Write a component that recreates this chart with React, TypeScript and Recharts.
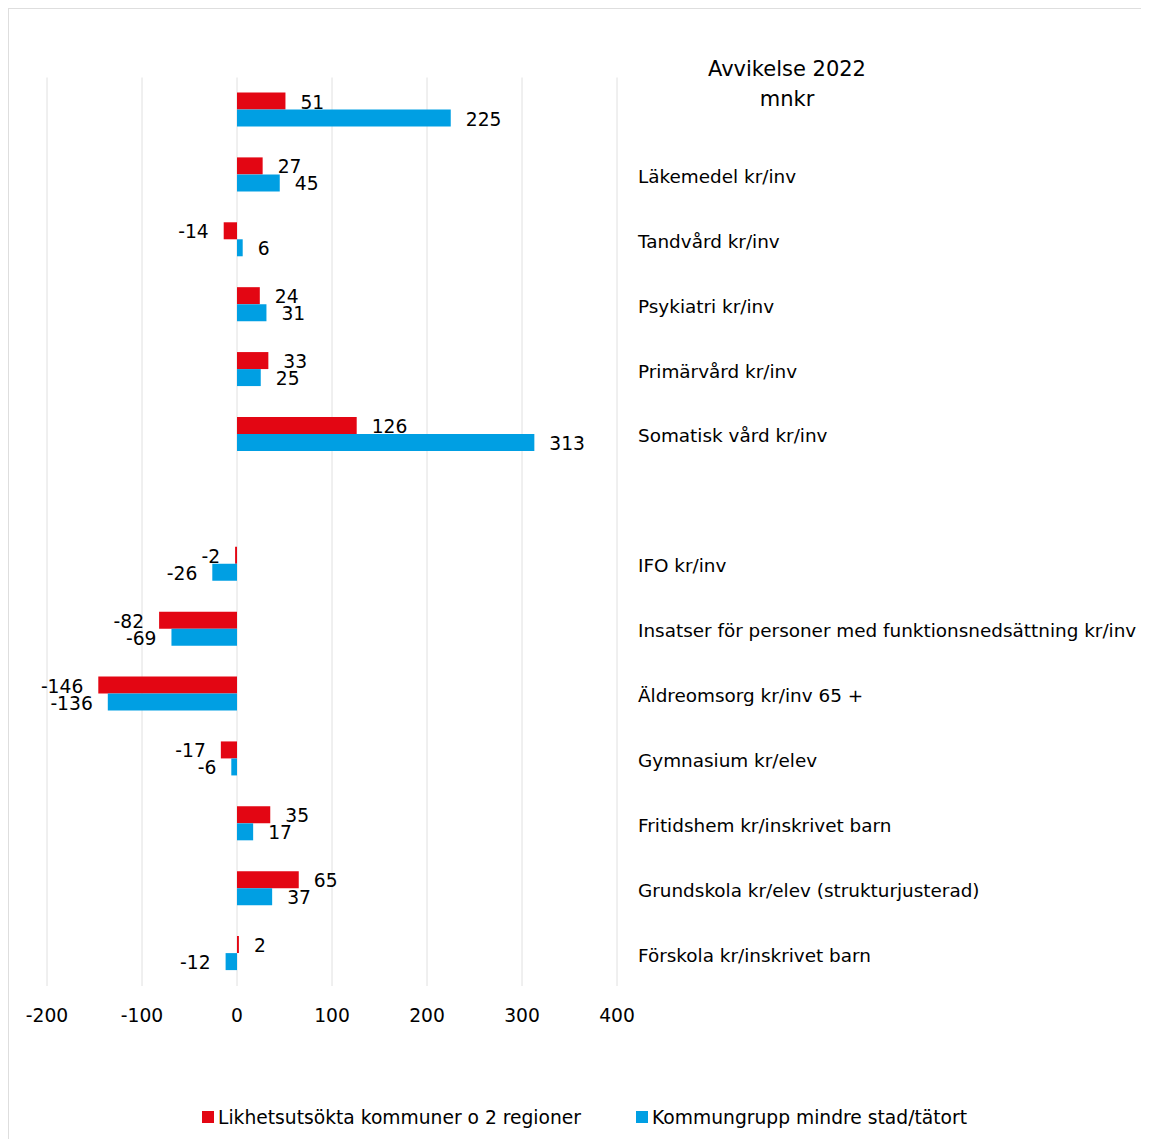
import React from "react";
import { Bar, BarChart, CartesianGrid, LabelList, Legend, XAxis, YAxis } from "recharts";

const categories = [
  "",
  "Läkemedel kr/inv",
  "Tandvård kr/inv",
  "Psykiatri kr/inv",
  "Primärvård kr/inv",
  "Somatisk vård kr/inv",
  " ",
  "IFO kr/inv",
  "Insatser för personer med funktionsnedsättning kr/inv",
  "Äldreomsorg kr/inv 65 +",
  "Gymnasium kr/elev",
  "Fritidshem kr/inskrivet barn",
  "Grundskola kr/elev (strukturjusterad)",
  "Förskola kr/inskrivet barn",
];
const likhetsutsokta = [51, 27, -14, 24, 33, 126, null, -2, -82, -146, -17, 35, 65, 2];
const kommungrupp = [225, 45, 6, 31, 25, 313, null, -26, -69, -136, -6, 17, 37, -12];
const xTicks = [-200, -100, 0, 100, 200, 300, 400];

const RED = "#E30613";
const BLUE = "#009FE3";
const FS = 18.7;

const series = [
  { key: "lik", name: "Likhetsutsökta kommuner o 2 regioner", color: RED },
  { key: "kg", name: "Kommungrupp mindre stad/tätort", color: BLUE },
];

const data = categories.map((name, i) => ({
  name,
  lik: likhetsutsokta[i],
  kg: kommungrupp[i],
}));

const ValueLabel = (props: any) => {
  const { x, y, width, height, value } = props;
  if (value === null || value === undefined) return null;
  const a = Number(x);
  const b = Number(x) + Number(width);
  const left = Math.min(a, b);
  const right = Math.max(a, b);
  const neg = value < 0;
  return (
    <text
      x={neg ? left - 15 : right + 15}
      y={Number(y) + Number(height) / 2 + 1}
      textAnchor={neg ? "end" : "start"}
      dominantBaseline="central"
      fontSize={FS}
      fill="#000"
    >
      {value}
    </text>
  );
};

const LegendContent = () => (
  <div
    style={{
      display: "flex",
      justifyContent: "center",
      alignItems: "center",
      height: 30,
      paddingLeft: 11,
      fontSize: FS,
      color: "#000",
    }}
  >
    {series.map((s, i) => (
      <div key={s.key} style={{ display: "flex", alignItems: "center", marginLeft: i ? 55 : 0 }}>
        <span style={{ display: "inline-block", width: 12, height: 12, background: s.color, marginRight: 4 }} />
        <span>{s.name}</span>
      </div>
    ))}
  </div>
);

export default function App() {
  return (
    <div
      style={{
        position: "relative",
        width: 1140,
        height: 1130,
        borderTop: "1px solid #dedede",
        borderLeft: "1px solid #dedede",
        fontFamily: "'DejaVu Sans', Verdana, sans-serif",
        color: "#000",
      }}
    >
      <style>{".recharts-surface{overflow:visible}"}</style>
      <div
        style={{
          position: "absolute",
          left: 628,
          width: 300,
          top: 45,
          textAlign: "center",
          fontSize: 21,
          lineHeight: "30px",
        }}
      >
        Avvikelse 2022
        <br />
        mnkr
      </div>
      <BarChart
        width={1140}
        height={1130}
        data={data}
        layout="vertical"
        margin={{ top: 68.5, right: 0, bottom: 7, left: 38 }}
        barSize={17}
        barGap={0}
      >
        <CartesianGrid horizontal={false} stroke="#e0e0e0" />
        <XAxis
          type="number"
          domain={[-200, 400]}
          ticks={xTicks}
          axisLine={false}
          tickLine={false}
          tickMargin={17}
          height={116}
          tick={{ fontSize: FS, fill: "#000" }}
        />
        <YAxis
          type="category"
          dataKey="name"
          orientation="right"
          width={532}
          axisLine={false}
          tickLine={false}
          tickMargin={15}
          interval={0}
          tick={{ fontSize: 18.4, fill: "#000", textAnchor: "start", dy: 1.5 }}
        />
        <Legend verticalAlign="bottom" content={LegendContent} wrapperStyle={{ left: 0, width: 1140 }} />
        {series.map((s) => (
          <Bar key={s.key} dataKey={s.key} name={s.name} fill={s.color} isAnimationActive={false}>
            <LabelList dataKey={s.key} content={ValueLabel} />
          </Bar>
        ))}
      </BarChart>
    </div>
  );
}
